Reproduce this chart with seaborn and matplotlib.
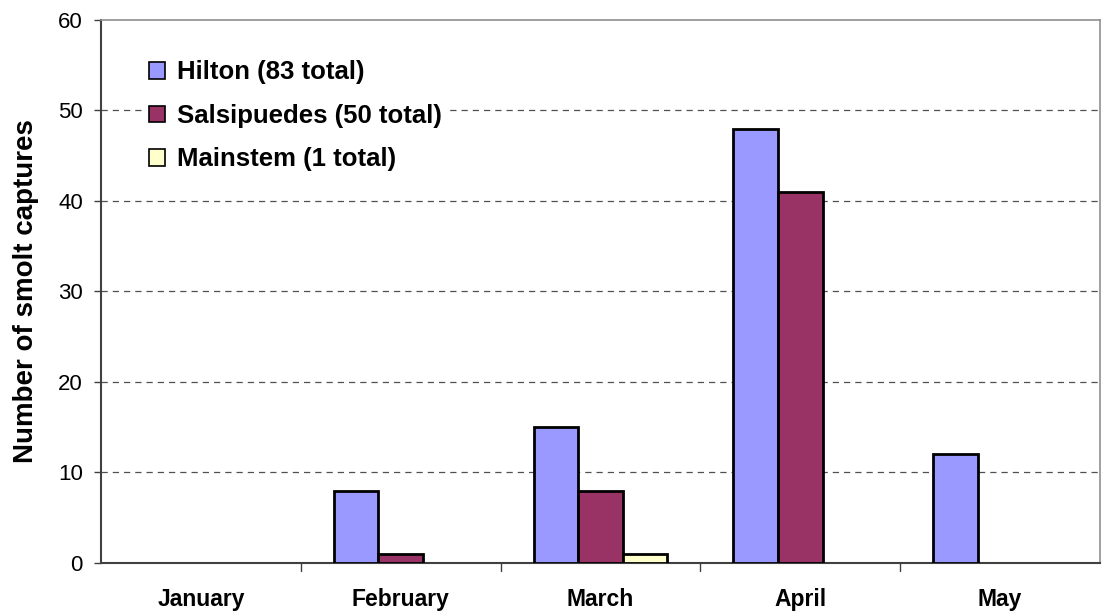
import matplotlib
matplotlib.use("Agg")
import matplotlib.pyplot as plt
import seaborn as sns
import pandas as pd
from matplotlib.patches import Patch

months = ["January", "February", "March", "April", "May"]
hilton = [0, 8, 15, 48, 12]
salsipuedes = [0, 1, 8, 41, 0]
mainstem = [0, 0, 1, 0, 0]
series_names = ["Hilton (83 total)", "Salsipuedes (50 total)", "Mainstem (1 total)"]
colors = ["#9999FF", "#993366", "#FFFFCC"]
yticks = [0, 10, 20, 30, 40, 50, 60]

rows = []
for name, vals in zip(series_names, [hilton, salsipuedes, mainstem]):
    for m, v in zip(months, vals):
        if v > 0:
            rows.append({"month": m, "series": name, "count": v})
df = pd.DataFrame(rows)

sns.set_style("white")
plt.rcParams["font.family"] = ["Liberation Sans", "DejaVu Sans"]
plt.rcParams["text.color"] = "black"
plt.rcParams["axes.labelcolor"] = "black"
plt.rcParams["xtick.color"] = "black"
plt.rcParams["ytick.color"] = "black"

fig = plt.figure(figsize=(11.03, 6.15), dpi=100)
ax = fig.add_axes([0.0916, 0.0846, 0.9057, 0.8829])

sns.barplot(data=df, x="month", y="count", hue="series", order=months,
            hue_order=series_names, palette=colors, saturation=1, width=0.67,
            edgecolor="black", linewidth=2, ax=ax, legend=False, errorbar=None,
            zorder=3)

ax.set_xlim(-0.5, len(months) - 0.5)
ax.set_ylim(0, 60)
ax.set_yticks(yticks)
ax.set_yticklabels([str(t) for t in yticks], fontsize=16)
for t in yticks[1:-1]:
    ax.axhline(t, color="#505050", linestyle=(0, (5, 4)), linewidth=0.9, zorder=1)

ax.set_xticks(range(len(months)))
ax.set_xticklabels(months, fontsize=16.5, fontweight="bold")
ax.tick_params(axis="x", length=0, pad=18)
ax.tick_params(axis="y", length=5, width=1, color="#404040", direction="out",
               left=True, pad=8)
for b in [0.5, 1.5, 2.5, 3.5]:
    ax.plot([b, b], [0, -0.015], transform=ax.get_xaxis_transform(), color="#404040",
            linewidth=1, clip_on=False)

ax.set_xlabel("")
ax.set_ylabel("Number of smolt captures", fontsize=20, fontweight="bold", labelpad=14)

for side in ["left", "bottom"]:
    ax.spines[side].set_color("#404040")
    ax.spines[side].set_linewidth(1.5)
for side in ["top", "right"]:
    ax.spines[side].set_color("#909090")
    ax.spines[side].set_linewidth(1.2)

handles = [Patch(facecolor=c, edgecolor="black", linewidth=1.2) for c in colors]
leg = ax.legend(handles, series_names, loc="upper left", bbox_to_anchor=(0.043, 0.935),
                frameon=True, framealpha=1, edgecolor="white", facecolor="white",
                prop={"weight": "bold", "size": 18.5}, handlelength=0.6, handleheight=0.6,
                handletextpad=0.5, labelspacing=0.76, borderpad=0.2, borderaxespad=0)
leg.set_zorder(5)

fig.savefig("out.png", dpi=100)
